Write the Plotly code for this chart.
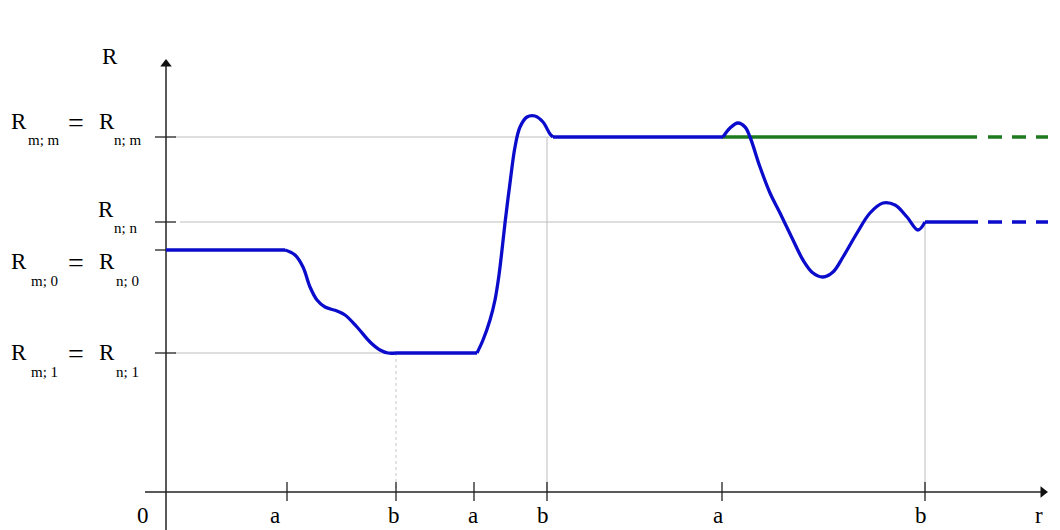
import plotly.graph_objects as go

# picture coordinates (pixels, y grows downwards)
# R levels
R_MM = 137   # R_m;m = R_n;m
R_NN = 222   # R_n;n
R_M0 = 250   # R_m;0 = R_n;0
R_M1 = 353   # R_m;1 = R_n;1

# r positions of the marks on the r axis
r_ticks = [287, 396, 474, 547, 722, 925]
r_tick_labels = ["a", "b", "a", "b", "a", "b"]
r_label_x = [275, 394, 473, 543, 718, 921]

# blue curve R(r), in pieces: flat parts are straight, transitions are smooth
drop_r = [285, 295, 303, 310, 317, 325, 337, 345, 357, 370, 380, 388, 396]
drop_R = [250, 255, 267, 287, 300, 307, 311, 315, 327, 342, 350, 353, 353]

rise_r = [477, 483, 490, 495, 499, 502, 505, 510, 515, 520, 527, 535, 543, 550, 553]
rise_R = [353, 340, 320, 300, 275, 250, 223, 183, 147, 127, 117, 116, 122, 134, 137]

wave_r = [723, 730, 738, 745, 750, 760, 770, 780, 793, 803, 813, 823,
          833, 843, 857, 870, 883, 895, 907, 918, 925]
wave_R = [137, 128, 123, 127, 137, 167, 193, 213, 240, 260, 273, 277,
          272, 257, 233, 213, 203, 205, 217, 230, 222]

flat_r = [(166, 285), (396, 477), (553, 723), (925, 978)]
flat_R = [R_M0, R_M1, R_MM, R_NN]

green_r = [722, 977]
dash_r = [988, 1048]

AX_X = 166   # r = 0
AX_Y = 492   # R = 0

serif = "Liberation Serif"
BLUE = "#0b0bcc"
GREEN = "#1e7a1e"
GRID = "#bdbdbd"

fig = go.Figure()


def seg(x, y, color, width=1, dash=None, shape="linear"):
    fig.add_trace(go.Scatter(x=x, y=y, mode="lines", hoverinfo="skip",
                             line=dict(color=color, width=width, dash=dash, shape=shape)))


# thin guide lines
seg([175, 722], [R_MM, R_MM], GRID)
seg([180, 925], [R_NN, R_NN], GRID)
seg([175, 396], [R_M1, R_M1], GRID)
seg([396, 396], [R_M1, AX_Y], "#c8c8c8", dash="dot")
seg([547, 547], [R_MM, AX_Y], GRID)
seg([925, 925], [R_NN, AX_Y], GRID)

# axes
seg([AX_X, AX_X], [530, 62], "#222222", 1.5)
seg([145, 1042], [AX_Y, AX_Y], "#222222", 1.5)
fig.add_trace(go.Scatter(x=[AX_X], y=[64], mode="markers", hoverinfo="skip",
                         marker=dict(symbol="triangle-up", size=10, color="#111111")))
fig.add_trace(go.Scatter(x=[1043], y=[AX_Y], mode="markers", hoverinfo="skip",
                         marker=dict(symbol="triangle-right", size=10, color="#111111")))

# ticks
for lvl in [R_MM, R_NN, R_M0, R_M1]:
    seg([155, 176 if lvl != R_M0 else AX_X], [lvl, lvl], "#222222", 1.3)
for t in r_ticks:
    seg([t, t], [482, 501], "#222222", 1.3)

# curves
seg(green_r, [R_MM, R_MM], GREEN, 3.3)
seg(dash_r, [R_MM, R_MM], GREEN, 3.3, dash="14px,10px")
for (x0, x1), lvl in zip(flat_r, flat_R):
    seg([x0, x1], [lvl, lvl], BLUE, 3.3)
seg(drop_r, drop_R, BLUE, 3.3, shape="spline")
seg(rise_r, rise_R, BLUE, 3.3, shape="spline")
seg(wave_r, wave_R, BLUE, 3.3, shape="spline")
seg(dash_r, [R_NN, R_NN], BLUE, 3.3, dash="14px,10px")

# text
big = dict(family=serif, size=23, color="black")
eq = dict(family=serif, size=28, color="black")
small = dict(family=serif, size=15, color="black")
ann = []


def txt(x, y, s, font, yanchor="middle"):
    ann.append(dict(x=x, y=y, text=s, showarrow=False, font=font,
                    xanchor="center", yanchor=yanchor))


txt(110, 56, "R", big)

rows = [
    (121, 140, "m; m", "n; m"),
    (261, 281, "m; 0", "n; 0"),
    (352, 372, "m; 1", "n; 1"),
]
for ybig, ysub, s1, s2 in rows:
    txt(19, ybig, "R", big)
    txt(44, ysub, s1, small)
    txt(76, ybig + 1, "=", eq)
    txt(107, ybig, "R", big)
    txt(127, ysub, s2, small)
txt(106, 209, "R", big)
txt(125, 228, "n; n", small)

# labels on the r axis sit on the bottom edge, as in the original
txt(143, 530, "0", big, "bottom")
for xl, s in zip(r_label_x, r_tick_labels):
    txt(xl, 530, s, big, "bottom")
txt(1039, 530, "r", big, "bottom")
txt(287, 532, "1", small)
txt(405, 532, "1", small)

# the page body has an 8px margin, so the figure is 8px smaller and the
# axis ranges start at 8 to keep data units equal to page pixels
fig.update_layout(
    width=1052, height=522,
    margin=dict(l=0, r=0, t=0, b=0),
    paper_bgcolor="white", plot_bgcolor="white",
    showlegend=False,
    xaxis=dict(range=[8, 1060], visible=False, fixedrange=True),
    yaxis=dict(range=[530, 8], visible=False, fixedrange=True),
    annotations=ann,
)

fig.write_html("out.html")
